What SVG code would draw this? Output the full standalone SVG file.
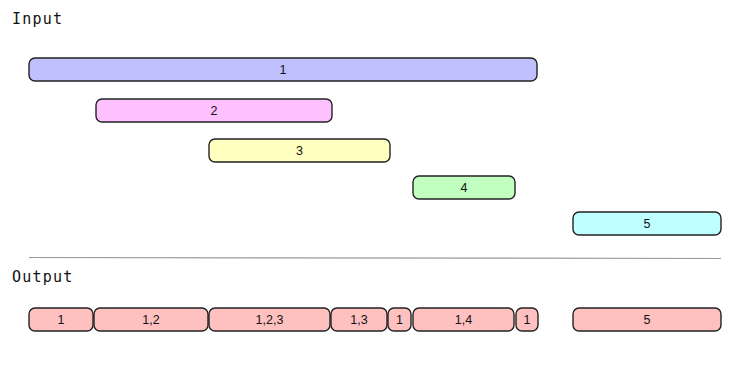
<svg xmlns="http://www.w3.org/2000/svg" width="750" height="375" viewBox="0 0 750 375">
<style>
.bar{stroke:#222;stroke-width:1.4}
.lbl{font-family:"Liberation Sans",Arial,sans-serif;font-size:12.5px;fill:#111;text-anchor:middle}
.title{font-family:"DejaVu Sans Mono","Liberation Mono",monospace;font-size:15px;letter-spacing:1.2px;fill:#111}
.in1{fill:#c0c0ff}.in2{fill:#ffc0ff}.in3{fill:#ffffc0}.in4{fill:#c0ffc0}.in5{fill:#c0ffff}.out{fill:#ffc0c0}
</style>
<rect width="750" height="375" fill="#fff"/>
<text class="title" x="12" y="24">Input</text>
<g id="in1"><rect class="bar in1" x="29" y="58" width="508" height="23" rx="6"/><text class="lbl" x="283" y="74">1</text></g>
<g id="in2"><rect class="bar in2" x="96" y="99" width="236" height="23" rx="6"/><text class="lbl" x="214" y="115">2</text></g>
<g id="in3"><rect class="bar in3" x="209" y="139" width="181" height="23" rx="6"/><text class="lbl" x="299.5" y="155">3</text></g>
<g id="in4"><rect class="bar in4" x="413" y="176" width="102" height="23" rx="6"/><text class="lbl" x="464" y="192">4</text></g>
<g id="in5"><rect class="bar in5" x="573" y="212" width="148" height="23" rx="6"/><text class="lbl" x="647" y="228">5</text></g>
<g id="connectors"><line x1="29" y1="257.5" x2="721" y2="258.5" stroke="#999" stroke-width="1.2"/></g>
<text class="title" x="12" y="282">Output</text>
<g id="out1"><rect class="bar out" x="29" y="308" width="64" height="23" rx="6"/><text class="lbl" x="61" y="324">1</text></g>
<g id="out2"><rect class="bar out" x="94" y="308" width="114" height="23" rx="6"/><text class="lbl" x="151" y="324">1,2</text></g>
<g id="out3"><rect class="bar out" x="209" y="308" width="121" height="23" rx="6"/><text class="lbl" x="269.5" y="324">1,2,3</text></g>
<g id="out4"><rect class="bar out" x="331" y="308" width="56" height="23" rx="6"/><text class="lbl" x="359" y="324">1,3</text></g>
<g id="out5"><rect class="bar out" x="388" y="308" width="23" height="23" rx="6"/><text class="lbl" x="399.5" y="324">1</text></g>
<g id="out6"><rect class="bar out" x="413" y="308" width="101" height="23" rx="6"/><text class="lbl" x="463.5" y="324">1,4</text></g>
<g id="out7"><rect class="bar out" x="516" y="308" width="22" height="23" rx="6"/><text class="lbl" x="527" y="324">1</text></g>
<g id="out8"><rect class="bar out" x="573" y="308" width="148" height="23" rx="6"/><text class="lbl" x="647" y="324">5</text></g>
</svg>
